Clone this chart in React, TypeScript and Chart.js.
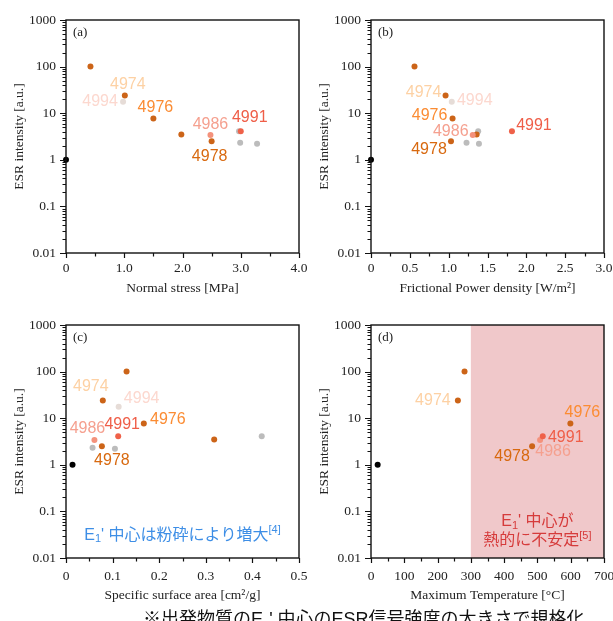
import React, { useEffect, useRef } from 'react';
import { Chart, registerables } from 'chart.js';

Chart.register(...registerables);

// ---------- data ----------
const sampleIds = ['g1', 'g2', 'g3', 'start', 'u100', 'u35', '4974', '4976', '4978', '4986', '4991', '4994'];
const sampleLabels = ['', '', '', '', '', '', '4974', '4976', '4978', '4986', '4991', '4994'];
const esrIntensity = [4.1, 2.33, 2.2, 1, 100, 3.5, 24, 7.7, 2.5, 3.4, 4.1, 17.5];
const normalStress = [2.97, 2.99, 3.28, 0, 0.42, 1.98, 1.01, 1.5, 2.5, 2.48, 3.0, 0.98];
const powerDensity = [1.38, 1.23, 1.39, 0, 0.56, 1.36, 0.96, 1.05, 1.03, 1.31, 1.815, 1.04];
const surfaceArea = [0.42, 0.057, 0.105, 0.014, 0.13, 0.318, 0.079, 0.167, 0.077, 0.061, 0.112, 0.113];
const maxTemperature: (number | null)[] = [null, null, null, 20, 281, null, 261, 599, 484, 508, 516, null];
const yDecades = [0.01, 0.1, 1, 10, 100, 1000];
const unstableRange = [300, 700];

// ---------- styles ----------
const pointColors = ['#bcbcbc', '#bcbcbc', '#bcbcbc', '#000000', '#cc6418', '#cc6418', '#cc6418', '#cc6418', '#cc6418', '#f4927c', '#ef6149', '#e6dcd7'];
const labelColors = ['', '', '', '', '', '', '#fdd1a4', '#fb8c33', '#d8690f', '#f5a08f', '#ef5e48', '#fcd8cf'];
const SERIF = "'Liberation Serif', 'Times New Roman', serif";
const SANS = "'Liberation Sans', 'Noto Sans CJK JP', sans-serif";
const SHADE = '#f0c8ca';
const BLUE = '#3d8ee6';
const RED = '#d63b3b';

type Seg = { t: string; s: number; dy: number };
type Note = { x: number; y: number; color: string; segs: Seg[] };

type PanelDef = {
  letter: string;
  left: number; top: number; width: number; height: number;
  padTop: number; padRight: number; xAxisHeight: number;
  tickPad: number; titlePad: number;
  xs: (number | null)[];
  xMin: number; xMax: number; major: number; minor: number; decimals: number;
  xTitle: string;
  labelOffsets: Record<string, [number, number]>;
  shade?: number[];
  notes?: Note[];
};

const panels: PanelDef[] = [
  {
    letter: '(a)', left: 0, top: 0, width: 312, height: 300,
    padTop: 20, padRight: 13, xAxisHeight: 47, tickPad: 7, titlePad: 3,
    xs: normalStress, xMin: 0, xMax: 4, major: 1, minor: 0.5, decimals: 1,
    xTitle: 'Normal stress [MPa]',
    labelOffsets: { '4974': [3, -11], '4994': [-23, 0], '4976': [2, -11], '4986': [0, -10], '4991': [9, -14], '4978': [-2, 15] },
  },
  {
    letter: '(b)', left: 305, top: 0, width: 308, height: 300,
    padTop: 20, padRight: 9, xAxisHeight: 47, tickPad: 7, titlePad: 3,
    xs: powerDensity, xMin: 0, xMax: 3, major: 0.5, minor: 0.25, decimals: 1,
    xTitle: 'Frictional Power density [W/m\u00B2]',
    labelOffsets: { '4974': [-22, -3], '4994': [23, -1], '4976': [-23, -3], '4986': [-22, -3], '4991': [22, -6], '4978': [-22, 8] },
  },
  {
    letter: '(c)', left: 0, top: 300, width: 312, height: 321,
    padTop: 25, padRight: 13, xAxisHeight: 63, tickPad: 10, titlePad: 17,
    xs: surfaceArea, xMin: 0, xMax: 0.5, major: 0.1, minor: 0.05, decimals: 1,
    xTitle: 'Specific surface area [cm\u00B2/g]',
    labelOffsets: { '4974': [-12, -14], '4994': [23, -8], '4976': [24, -4], '4986': [-7, -11], '4991': [4, -12], '4978': [10, 14] },
    notes: [
      { x: 0.25, y: 0.031, color: BLUE, segs: [
        { t: 'E', s: 16, dy: 0 }, { t: '1', s: 11, dy: 4 }, { t: "' 中心は粉砕により増大", s: 16, dy: 0 }, { t: '[4]', s: 11, dy: -5 },
      ] },
    ],
  },
  {
    letter: '(d)', left: 305, top: 300, width: 308, height: 321,
    padTop: 25, padRight: 9, xAxisHeight: 63, tickPad: 10, titlePad: 17,
    xs: maxTemperature, xMin: 0, xMax: 700, major: 100, minor: 50, decimals: 0,
    xTitle: 'Maximum Temperature [\u00B0C]',
    labelOffsets: { '4974': [-25, 0], '4976': [12, -11], '4991': [23, 1], '4986': [13, 12], '4978': [-20, 10] },
    shade: unstableRange,
    notes: [
      { x: 500, y: 0.059, color: RED, segs: [
        { t: 'E', s: 16, dy: 0 }, { t: '1', s: 11, dy: 4 }, { t: "' 中心が", s: 16, dy: 0 },
      ] },
      { x: 500, y: 0.0232, color: RED, segs: [
        { t: '熱的に不安定', s: 16, dy: 0 }, { t: '[5]', s: 11, dy: -5 },
      ] },
    ],
  },
];

function drawRich(ctx: CanvasRenderingContext2D, segs: Seg[], cx: number, cy: number) {
  let w = 0;
  segs.forEach((sg) => { ctx.font = `${sg.s}px ${SANS}`; w += ctx.measureText(sg.t).width; });
  let xx = cx - w / 2;
  ctx.textAlign = 'left';
  ctx.textBaseline = 'middle';
  segs.forEach((sg) => {
    ctx.font = `${sg.s}px ${SANS}`;
    ctx.fillText(sg.t, xx, cy + sg.dy);
    xx += ctx.measureText(sg.t).width;
  });
}

function makeDecor(def: PanelDef) {
  return {
    id: 'decor' + def.letter,
    beforeDatasetsDraw(chart: any) {
      if (!def.shade) return;
      const { ctx, chartArea: a, scales: { x } } = chart;
      const x0 = x.getPixelForValue(def.shade[0]);
      const x1 = x.getPixelForValue(def.shade[1]);
      ctx.save();
      ctx.fillStyle = SHADE;
      ctx.fillRect(x0, a.top, x1 - x0, a.bottom - a.top);
      ctx.restore();
    },
    afterDatasetsDraw(chart: any) {
      const { ctx, scales: { x, y } } = chart;
      ctx.save();
      ctx.font = `16px ${SANS}`;
      ctx.textAlign = 'center';
      ctx.textBaseline = 'middle';
      def.xs.forEach((v, i) => {
        const off = def.labelOffsets[sampleIds[i]];
        if (v == null || !sampleLabels[i] || !off) return;
        ctx.fillStyle = labelColors[i];
        ctx.fillText(sampleLabels[i], x.getPixelForValue(v) + off[0], y.getPixelForValue(esrIntensity[i]) + off[1]);
      });
      (def.notes || []).forEach((n) => {
        ctx.fillStyle = n.color;
        drawRich(ctx, n.segs, x.getPixelForValue(n.x), y.getPixelForValue(n.y));
      });
      ctx.restore();
    },
    afterDraw(chart: any) {
      const { ctx, chartArea: a, scales: { x, y } } = chart;
      ctx.save();
      ctx.strokeStyle = '#111';
      ctx.lineWidth = 1.4;
      ctx.strokeRect(a.left, a.top, a.right - a.left, a.bottom - a.top);
      ctx.lineWidth = 1.2;
      ctx.beginPath();
      for (let d = -2; d <= 3; d++) {
        const base = Math.pow(10, d);
        const py = Math.round(y.getPixelForValue(base)) + 0.5;
        ctx.moveTo(a.left, py); ctx.lineTo(a.left - 6, py);
        if (d < 3) {
          for (let k = 2; k <= 9; k++) {
            const my = Math.round(y.getPixelForValue(k * base)) + 0.5;
            ctx.moveTo(a.left, my); ctx.lineTo(a.left - 3.5, my);
          }
        }
      }
      const nMinor = Math.round((def.xMax - def.xMin) / def.minor);
      const ratio = Math.round(def.major / def.minor);
      for (let j = 0; j <= nMinor; j++) {
        const v = def.xMin + j * def.minor;
        const px = Math.round(x.getPixelForValue(v)) + 0.5;
        const len = j % ratio === 0 ? 5 : 3.5;
        ctx.moveTo(px, a.bottom); ctx.lineTo(px, a.bottom + len);
      }
      ctx.stroke();
      ctx.fillStyle = '#222';
      ctx.font = `13px ${SERIF}`;
      ctx.textAlign = 'left';
      ctx.textBaseline = 'middle';
      ctx.fillText(def.letter, a.left + 7, a.top + 13);
      ctx.restore();
    },
  };
}

function Panel({ def }: { def: PanelDef }) {
  const ref = useRef<HTMLCanvasElement>(null);
  useEffect(() => {
    const idx = def.xs.map((v, i) => (v == null ? -1 : i)).filter((i) => i >= 0);
    const chart = new Chart(ref.current as HTMLCanvasElement, {
      type: 'scatter',
      data: {
        datasets: [{
          data: idx.map((i) => ({ x: def.xs[i] as number, y: esrIntensity[i] })),
          pointBackgroundColor: idx.map((i) => pointColors[i]),
          pointBorderWidth: 0,
          pointRadius: 3,
          pointHoverRadius: 3,
          clip: false as any,
        }],
      },
      options: {
        animation: false,
        responsive: false,
        devicePixelRatio: 1,
        events: [],
        layout: { padding: { top: def.padTop, right: def.padRight, left: 0, bottom: 0 }, autoPadding: false } as any,
        plugins: { legend: { display: false }, tooltip: { enabled: false } },
        scales: {
          x: {
            type: 'linear', min: def.xMin, max: def.xMax,
            grid: { display: false, drawTicks: false },
            border: { display: false },
            ticks: {
              stepSize: def.major, padding: def.tickPad, color: '#222', maxRotation: 0, autoSkip: false,
              font: { family: SERIF, size: 13.5 },
              callback: (v: any) => (Math.abs(Number(v)) < 1e-9 ? '0' : Number(v).toFixed(def.decimals)),
            },
            title: { display: true, text: def.xTitle, color: '#222', font: { family: SERIF, size: 13.5 }, padding: { top: 0, bottom: def.titlePad } },
            afterFit: (s: any) => { s.height = def.xAxisHeight; s.paddingLeft = 0; s.paddingRight = 0; },
          },
          y: {
            type: 'logarithmic', min: 0.01, max: 1000,
            grid: { display: false, drawTicks: false },
            border: { display: false },
            afterBuildTicks: (s: any) => { s.ticks = yDecades.map((v) => ({ value: v })); },
            ticks: {
              padding: 10, color: '#222', autoSkip: false,
              font: { family: SERIF, size: 13.5 },
              callback: (v: any) => String(Number(v)),
            },
            title: { display: true, text: 'ESR intensity [a.u.]', color: '#222', font: { family: SERIF, size: 13.5 }, padding: { top: 11, bottom: 0 } },
            afterFit: (s: any) => { s.width = 66; s.paddingTop = 0; s.paddingBottom = 0; },
          },
        } as any,
      },
      plugins: [makeDecor(def)],
    });
    return () => chart.destroy();
  }, [def]);
  return (
    <canvas
      ref={ref}
      width={def.width}
      height={def.height}
      style={{ position: 'absolute', left: def.left, top: def.top, width: def.width, height: def.height }}
    />
  );
}

export default function App() {
  return (
    <div style={{ position: 'absolute', left: 0, top: 0, width: 613, height: 621, overflow: 'hidden', background: '#fff' }}>
      {panels.map((p) => <Panel key={p.letter} def={p} />)}
      <div style={{ position: 'absolute', left: 143, top: 609, fontFamily: SANS, fontSize: 18, lineHeight: '20px', whiteSpace: 'nowrap', color: '#111' }}>
        ※出発物質のE<sub style={{ fontSize: 11 }}>1</sub>' 中心のESR信号強度の大きさで規格化
      </div>
    </div>
  );
}
